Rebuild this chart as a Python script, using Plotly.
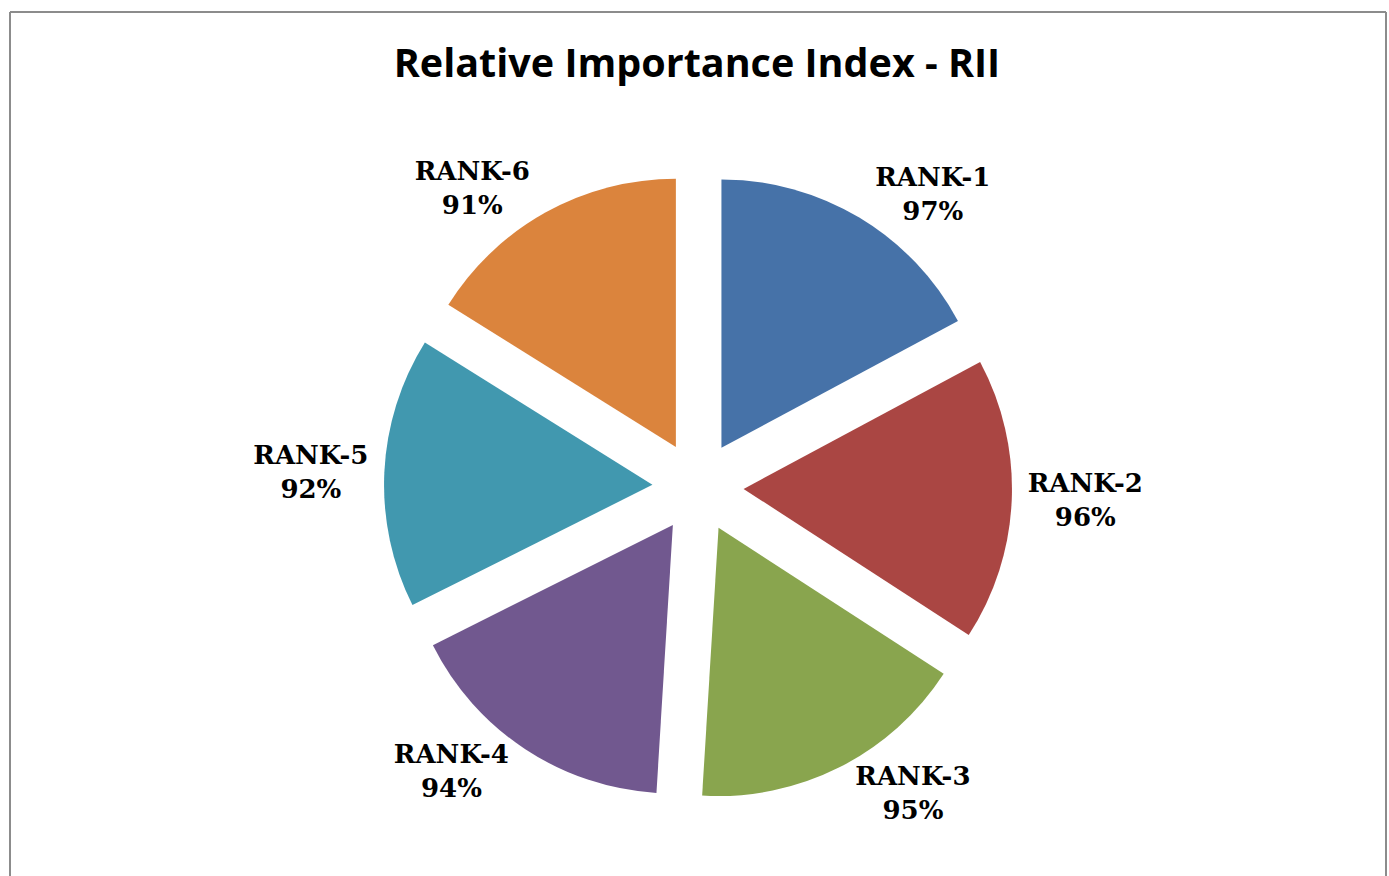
import plotly.graph_objects as go

labels = ["RANK-1", "RANK-2", "RANK-3", "RANK-4", "RANK-5", "RANK-6"]
values = [97, 96, 95, 94, 92, 91]
colors = ["#4672A8", "#AA4643", "#89A54E", "#71588F", "#4198AF", "#DB843D"]

W, H = 1389, 876
cx, cy, half = 698, 487, 314

fig = go.Figure(go.Pie(
    labels=labels,
    values=values,
    sort=False,
    direction="clockwise",
    rotation=0,
    pull=0.17,
    automargin=False,
    marker=dict(colors=colors, line=dict(width=0)),
    textposition="outside",
    texttemplate="%{label}<br>%{value}%",
    textfont=dict(family="DejaVu Serif", size=26, color="#000000", weight="bold"),
    showlegend=False,
    hoverinfo="label+value",
    domain=dict(x=[(cx - half) / W, (cx + half) / W],
                y=[(H - cy - half) / H, (H - cy + half) / H]),
))

fig.update_layout(
    width=W, height=H, autosize=False,
    margin=dict(l=0, r=0, t=0, b=0, pad=0, autoexpand=False),
    paper_bgcolor="white",
    title=dict(text="<b>Relative Importance Index - RII</b>",
               x=697 / W, xanchor="center", y=1 - 63 / H, yanchor="middle",
               font=dict(family="Open Sans", size=39.5, color="#000000")),
    shapes=[
        dict(type="line", xref="paper", yref="paper", x0=10 / W, x1=10 / W, y0=-0.2, y1=1 - 12 / H,
             line=dict(color="#8C8C8C", width=2)),
        dict(type="line", xref="paper", yref="paper", x0=1386 / W, x1=1386 / W, y0=-0.2, y1=1 - 12 / H,
             line=dict(color="#8C8C8C", width=2)),
        dict(type="line", xref="paper", yref="paper", x0=10 / W, x1=1386 / W, y0=1 - 12 / H, y1=1 - 12 / H,
             line=dict(color="#8C8C8C", width=2)),
    ],
)

fig.write_html("out.html")
